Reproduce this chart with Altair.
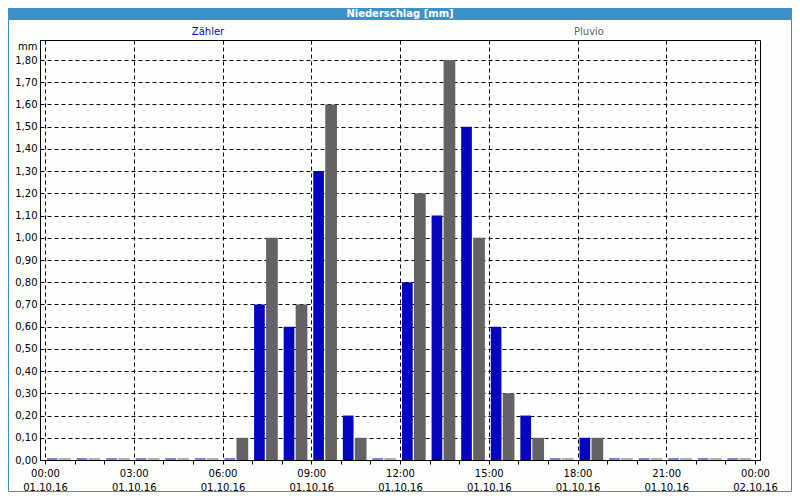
import altair as alt
import pandas as pd

# ---------------- data ----------------
hours = list(range(24))
zaehler_mm = [0, 0, 0, 0, 0, 0, 0, 0.7, 0.6, 1.3, 0.2, 0, 0.8, 1.1, 1.5, 0.6, 0.2, 0, 0.1, 0, 0, 0, 0, 0]
pluvio_mm = [0, 0, 0, 0, 0, 0, 0.1, 1.0, 0.7, 1.6, 0.1, 0, 1.2, 1.8, 1.0, 0.3, 0.1, 0, 0.1, 0, 0, 0, 0, 0]
series_names = ["Zähler", "Pluvio"]
series_colors = ["#0505C0", "#646264"]
x_label_hours = [0, 3, 6, 9, 12, 15, 18, 21, 24]
x_label_times = ["00:00", "03:00", "06:00", "09:00", "12:00", "15:00", "18:00", "21:00", "00:00"]
x_label_dates = ["01.10.16"] * 8 + ["02.10.16"]
y_tick_values = [0.0, 0.1, 0.2, 0.3, 0.4, 0.5, 0.6, 0.7, 0.8, 0.9, 1.0,
                 1.1, 1.2, 1.3, 1.4, 1.5, 1.6, 1.7, 1.8]
title_text = "Niederschlag [mm]"
unit_text = "mm"

# ---------------- layout / style ----------------
FONT = "DejaVu Sans"
HEADER_BLUE = "#3C91C8"
PLOT_W, PLOT_H = 720, 420
PAD = {"left": 32, "top": 32, "right": 32, "bottom": 32}
bar_geom = {  # (center offset px, width px) within an hour slot
    "Zähler": (7.35, 10.7),
    "Pluvio": (19.85, 11.7),
}
legend_x = {"Zähler": 168, "Pluvio": 549}

rows = []
for h, z, p in zip(hours, zaehler_mm, pluvio_mm):
    rows.append({"hour": h, "series": series_names[0], "mm": z})
    rows.append({"hour": h, "series": series_names[1], "mm": p})
df = pd.DataFrame(rows)

# x label expression built from label lists
label_expr = "''"
for hv, t, d in reversed(list(zip(x_label_hours, x_label_times, x_label_dates))):
    label_expr = f"datum.value == {hv} ? ['{t}', '{d}'] : ({label_expr})"

x_enc = alt.X(
    "hour:Q",
    scale=alt.Scale(domain=[0, 24], nice=False, zero=False),
    axis=alt.Axis(
        values=list(range(25)),
        labelExpr=label_expr,
        labelLineHeight=14,
        labelBaseline="top",
        labelPadding=4,
        tickSize=4,
        title=None,
        grid=True,
        gridOpacity={"condition": {"test": "datum.value % 3 === 0", "value": 1}, "value": 0},
        labelOverlap=False,
        labelFlush=False,
    ),
)
y_enc = alt.Y(
    "mm:Q",
    scale=alt.Scale(domain=[0, 1.89], nice=False),
    axis=alt.Axis(
        values=y_tick_values,
        labelExpr="replace(format(datum.value, '.2f'), '.', ',')",
        tickSize=0,
        labelPadding=3,
        grid=True,
        title=unit_text,
        titleAngle=0,
        titleAlign="right",
        titleBaseline="middle",
        titleX=-3,
        titleY=6,
        titleFont=FONT,
        titleFontSize=10,
        titleFontWeight="normal",
        titleColor="black",
    ),
)

layers = []
for name, color in zip(series_names, series_colors):
    off, w = bar_geom[name]
    sub = alt.Chart(df).transform_filter(alt.datum.series == name)
    layers.append(
        sub.mark_bar(color=color, width=w, xOffset=off).encode(x=x_enc, y=y_enc)
    )
    layers.append(
        sub.transform_filter("datum.mm == 0")
        .mark_rule(color=color, strokeWidth=1,
                   xOffset=off - w / 2, x2Offset=off + w / 2, yOffset=-1)
        .encode(x=x_enc, x2="hour:Q", y=y_enc)
    )
    layers.append(
        alt.Chart(pd.DataFrame({"label": [name]}))
        .mark_text(font=FONT, fontSize=10, color=color, align="center", baseline="middle")
        .encode(text="label:N", x=alt.value(legend_x[name]), y=alt.value(-8))
    )

header_df = pd.DataFrame({"label": [title_text]})
header_bar = alt.Chart(header_df).mark_rect(color=HEADER_BLUE).encode(
    x=alt.value(-PAD["left"]), x2=alt.value(PLOT_W + PAD["right"]),
    y=alt.value(-PAD["top"]), y2=alt.value(-20),
)
header_text = alt.Chart(header_df).mark_text(
    font=FONT, fontSize=10, fontWeight="bold", color="white",
    align="center", baseline="middle",
).encode(text="label:N", x=alt.value(PLOT_W / 2), y=alt.value(-26))
frame = alt.Chart(header_df).mark_rect(
    fill=None, stroke=HEADER_BLUE, strokeWidth=1,
).encode(
    x=alt.value(-PAD["left"] + 0.5), x2=alt.value(PLOT_W + PAD["right"] - 0.5),
    y=alt.value(-PAD["top"] + 0.5), y2=alt.value(PLOT_H + PAD["bottom"] - 0.5),
)

chart = (
    alt.layer(header_bar, header_text, frame, *layers)
    .properties(
        width=PLOT_W, height=PLOT_H,
        autosize=alt.AutoSizeParams(type="none"),
        padding=PAD,
        background="#FCFEFC",
    )
    .configure_view(stroke="black", strokeWidth=1)
    .configure_axis(
        domainColor="black", domainWidth=1,
        tickColor="black", tickWidth=1,
        gridColor="black", gridDash=[4, 3], gridWidth=1,
        labelFont=FONT, labelFontSize=10, labelColor="black",
    )
)

chart.save("out.html", embed_options={"renderer": "svg", "actions": False})
